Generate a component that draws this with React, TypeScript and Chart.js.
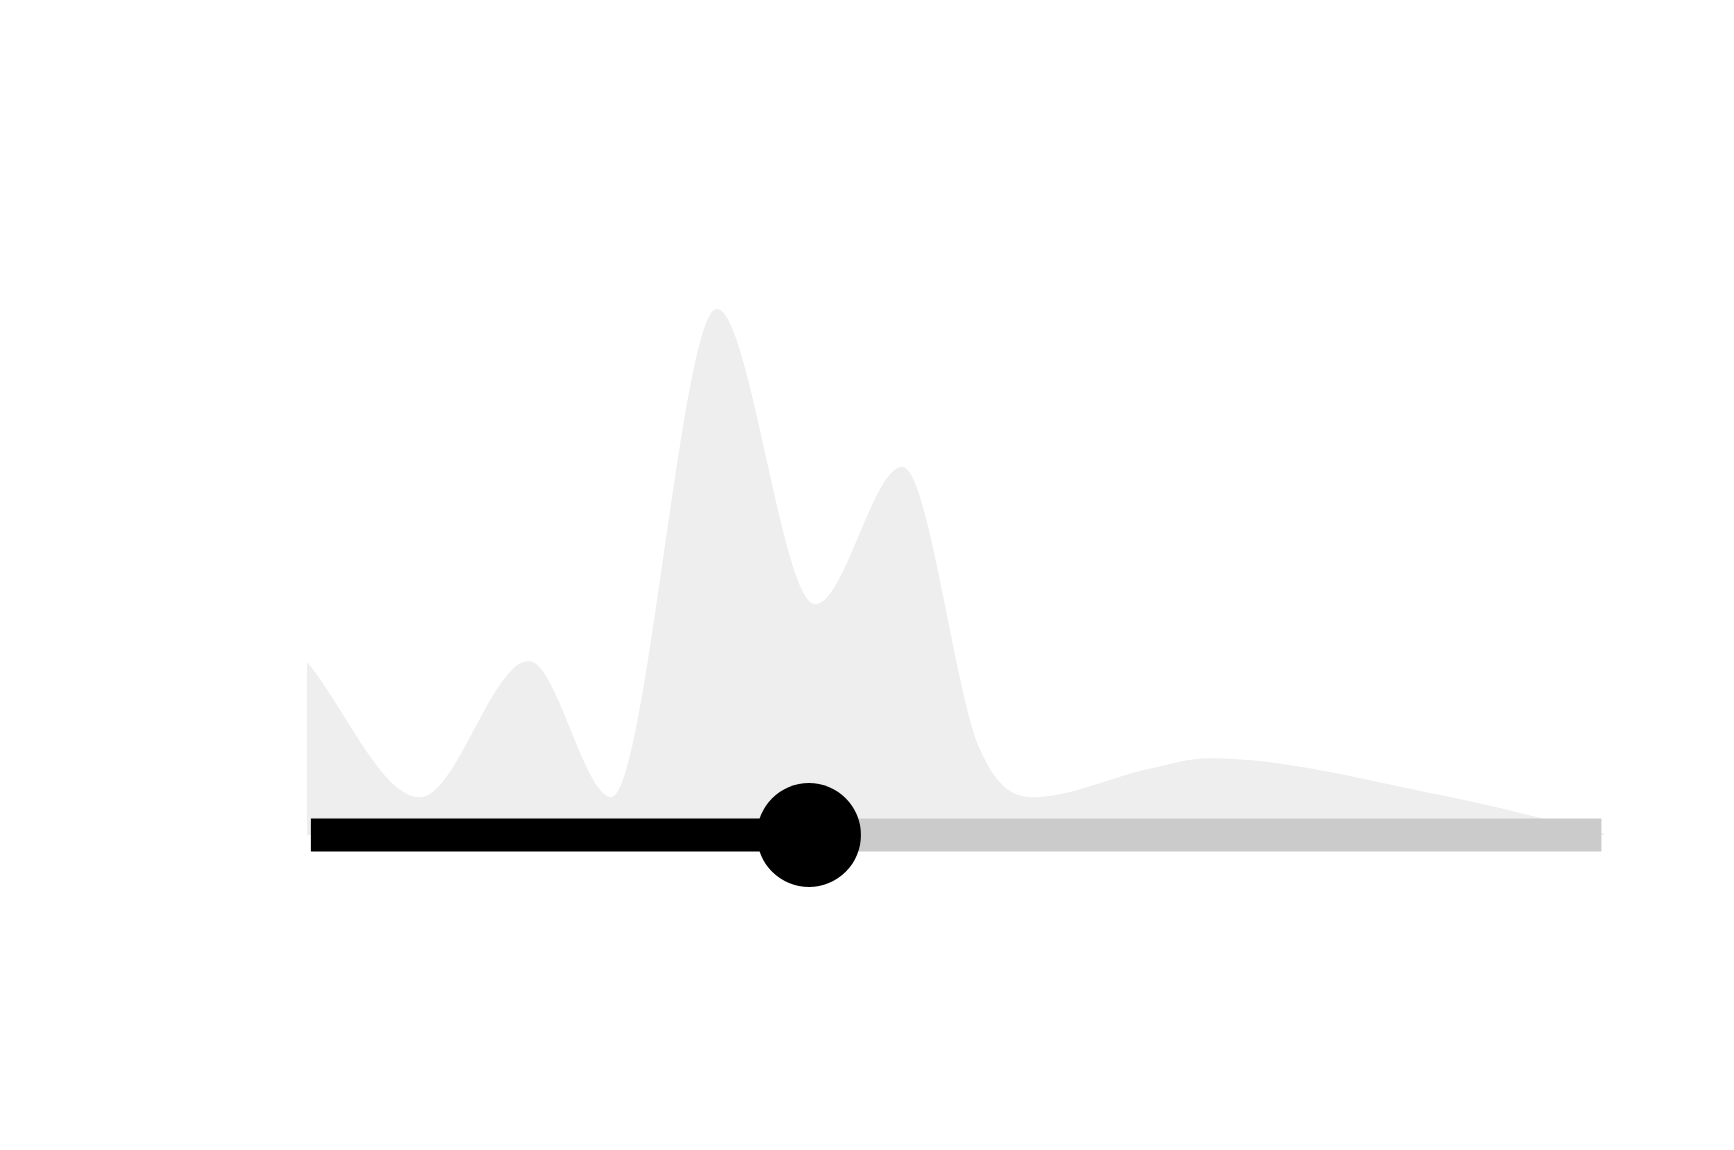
import { useEffect, useRef } from "react";
import { Chart, registerables } from "chart.js";

Chart.register(...registerables);

// density curve behind the slider (x in slider units 0..100)
const densityX = [0, 8.7, 17.1, 23.5, 31.6, 39.2, 45.9, 51.9, 55.9, 65.1, 69.5, 87.4, 100];
const densityY = [32.9, 7.2, 33.1, 7.2, 100, 43.9, 70.0, 16.2, 7.2, 12.7, 14.6, 7.6, 0.3];

// slider track ends and the selected value
const trackRange = [0.3, 99.8];
const sliderValue = 38.7;

export default function App() {
  const chartRef = useRef<HTMLCanvasElement>(null);
  const chartInstance = useRef<Chart | null>(null);

  useEffect(() => {
    if (!chartRef.current) return;
    const ctx = chartRef.current.getContext("2d");
    if (!ctx) return;

    if (chartInstance.current) {
      chartInstance.current.destroy();
    }

    const density = densityX.map((x, i) => ({ x, y: densityY[i] }));

    chartInstance.current = new Chart(ctx, {
      type: "line",
      data: {
        datasets: [
          {
            // handle
            data: [{ x: sliderValue, y: 0 }],
            showLine: false,
            pointRadius: 52,
            pointBackgroundColor: "#000000",
            pointBorderWidth: 0,
            order: 0,
          },
          {
            // filled part of the track
            data: [
              { x: trackRange[0], y: 0 },
              { x: sliderValue, y: 0 },
            ],
            borderColor: "#000000",
            borderWidth: 33,
            borderCapStyle: "butt",
            pointRadius: 0,
            order: 1,
          },
          {
            // rest of the track
            data: [
              { x: sliderValue, y: 0 },
              { x: trackRange[1], y: 0 },
            ],
            borderColor: "#cbcbcb",
            borderWidth: 33,
            borderCapStyle: "butt",
            pointRadius: 0,
            order: 2,
          },
          {
            data: density,
            fill: "origin",
            backgroundColor: "#eeeeee",
            borderWidth: 0,
            pointRadius: 0,
            cubicInterpolationMode: "monotone",
            order: 3,
          },
        ],
      },
      options: {
        responsive: false,
        animation: false,
        layout: {
          padding: { left: 307, right: 130, top: 309, bottom: 315 },
        },
        scales: {
          x: { type: "linear", min: 0, max: 100, display: false },
          y: { min: 0, max: 100, display: false },
        },
        plugins: {
          legend: { display: false },
          tooltip: { enabled: false },
        },
        clip: false,
      },
    });

    return () => {
      if (chartInstance.current) {
        chartInstance.current.destroy();
        chartInstance.current = null;
      }
    };
  }, []);

  return (
    <div
      style={{
        position: "absolute",
        left: 0,
        top: 0,
        width: 1734,
        height: 1150,
        background: "#ffffff",
      }}
    >
      <canvas ref={chartRef} width={1734} height={1150}></canvas>
    </div>
  );
}
